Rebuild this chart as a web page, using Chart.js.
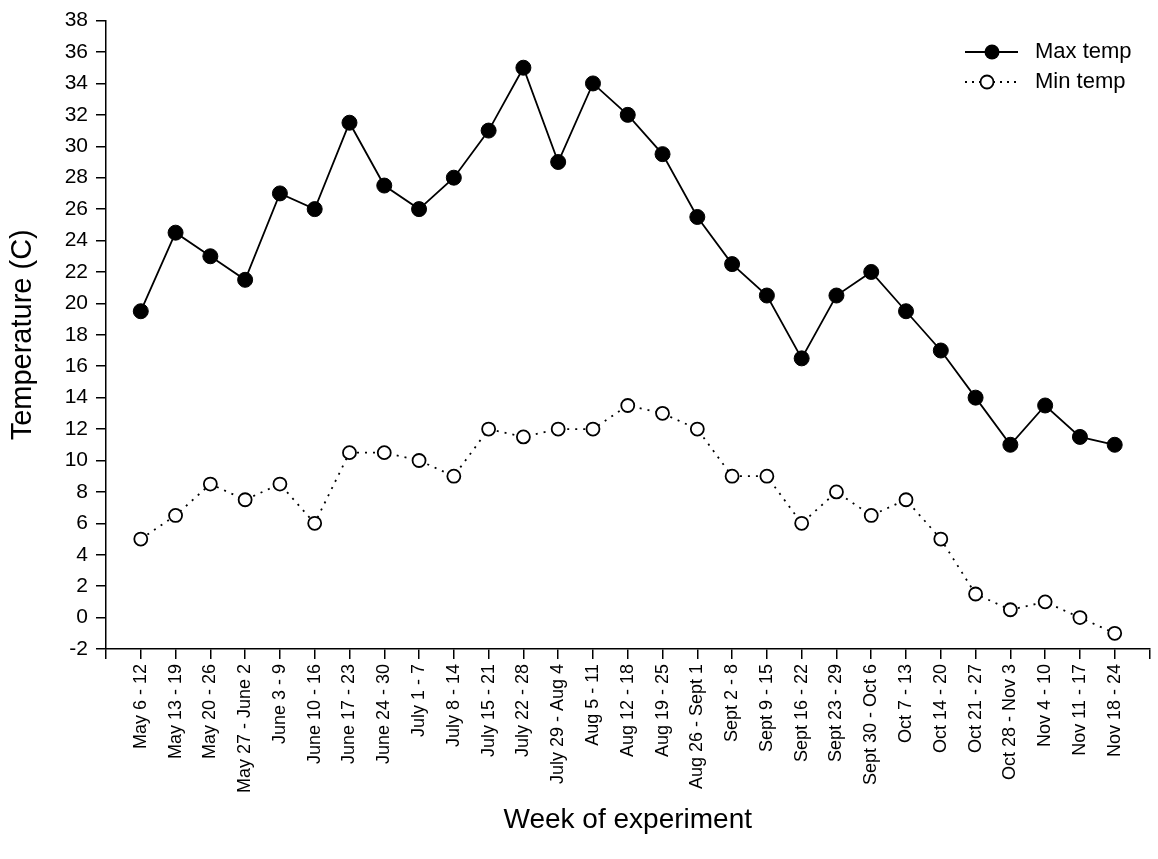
<!DOCTYPE html>
<html>
<head>
<meta charset="utf-8">
<script src="https://cdn.jsdelivr.net/npm/chart.js@4"></script>
<style>
  html, body { margin: 0; padding: 0; background: #fff; }
  #wrap { width: 1158px; height: 859px; }
</style>
</head>
<body>
<div id="wrap"><canvas id="tempChart" width="1158" height="859"></canvas></div>
<script>
var weeks = ['May 6 - 12', 'May 13 - 19', 'May 20 - 26', 'May 27 - June 2', 'June 3 - 9',
    'June 10 - 16', 'June 17 - 23', 'June 24 - 30', 'July 1 - 7', 'July 8 - 14',
    'July 15 - 21', 'July 22 - 28', 'July 29 - Aug 4', 'Aug 5 - 11', 'Aug 12 - 18',
    'Aug 19 - 25', 'Aug 26 - Sept 1', 'Sept 2 - 8', 'Sept 9 - 15', 'Sept 16 - 22',
    'Sept 23 - 29', 'Sept 30 - Oct 6', 'Oct 7 - 13', 'Oct 14 - 20', 'Oct 21 - 27',
    'Oct 28 - Nov 3', 'Nov 4 - 10', 'Nov 11 - 17', 'Nov 18 - 24'];

var maxTemp = [19.5, 24.5, 23, 21.5, 27, 26, 31.5, 27.5, 26, 28,
    31, 35, 29, 34, 32, 29.5, 25.5, 22.5, 20.5, 16.5,
    20.5, 22, 19.5, 17, 14, 11, 13.5, 11.5, 11];

var minTemp = [5, 6.5, 8.5, 7.5, 8.5, 6, 10.5, 10.5, 10, 9,
    12, 11.5, 12, 12, 13.5, 13, 12, 9, 9, 6,
    8, 6.5, 7.5, 5, 1.5, 0.5, 1, 0, -1];

var font = 'Liberation Sans, Arial, sans-serif';

// week i sits at x = i + 1, axis runs 0..30
function toPoints(arr) {
    return arr.map((v, i) => ({x: i + 1, y: v}));
}

// legend drawn by hand: solid line + filled dot, dotted line + open dot
var legendPlugin = {
    id: 'legendPlugin',
    afterDraw(chart) {
        const c = chart.ctx;
        c.save();
        c.strokeStyle = '#000';
        c.lineWidth = 1.8;
        c.beginPath();
        c.moveTo(965, 52); c.lineTo(1018, 52);
        c.stroke();
        c.fillStyle = '#000';
        c.beginPath();
        c.arc(992, 52, 7.5, 0, Math.PI * 2);
        c.fill();

        c.setLineDash([2, 5]);
        c.beginPath();
        c.moveTo(965, 82); c.lineTo(1020, 82);
        c.stroke();
        c.setLineDash([]);
        c.fillStyle = '#fff';
        c.beginPath();
        c.arc(987, 82, 6.5, 0, Math.PI * 2);
        c.fill();
        c.stroke();

        c.fillStyle = '#000';
        c.font = '22px ' + font;
        c.textBaseline = 'middle';
        c.fillText('Max temp', 1035, 52);
        c.fillText('Min temp', 1035, 82);
        c.restore();
    }
};

var ctx = document.getElementById('tempChart').getContext('2d');

var tempChart = new Chart(ctx, {
    type: 'line',
    data: {
        datasets: [{
            label: 'Max temp',
            data: toPoints(maxTemp),
            borderColor: '#000',
            borderWidth: 1.8,
            pointRadius: 7.5,
            pointBackgroundColor: '#000',
            pointBorderColor: '#000',
            pointBorderWidth: 1,
            tension: 0
        }, {
            label: 'Min temp',
            data: toPoints(minTemp),
            borderColor: '#000',
            borderWidth: 1.8,
            borderDash: [2, 6],
            pointRadius: 6.5,
            pointBackgroundColor: '#fff',
            pointBorderColor: '#000',
            pointBorderWidth: 1.8,
            tension: 0
        }]
    },
    options: {
        responsive: false,
        animation: false,
        layout: {
            padding: {top: 18, right: 6, bottom: 0, left: 0}
        },
        plugins: {
            legend: {display: false},
            tooltip: {enabled: false}
        },
        scales: {
            x: {
                type: 'linear',
                min: 0,
                max: 30,
                afterFit: (scale) => {
                    scale.height = 210;
                    scale.paddingLeft = 0;
                    scale.paddingRight = 0;
                },
                border: {display: true, color: '#000', width: 1.5},
                grid: {drawOnChartArea: false, drawTicks: true, tickLength: 10, color: '#000', lineWidth: 1.5},
                ticks: {
                    stepSize: 1,
                    autoSkip: false,
                    minRotation: 90,
                    maxRotation: 90,
                    padding: 5,
                    color: '#000',
                    font: {family: font, size: 18},
                    callback: (value) => weeks[value - 1] || ''
                },
                title: {
                    display: true,
                    text: 'Week of experiment',
                    color: '#000',
                    font: {family: font, size: 28},
                    padding: {top: 0, bottom: 22}
                }
            },
            y: {
                min: -2,
                max: 38,
                afterFit: (scale) => { scale.width = 106; },
                border: {display: true, color: '#000', width: 1.5},
                grid: {drawOnChartArea: false, drawTicks: true, tickLength: 10, color: '#000', lineWidth: 1.5},
                ticks: {
                    stepSize: 2,
                    autoSkip: false,
                    padding: 8,
                    color: '#000',
                    font: {family: font, size: 21}
                },
                title: {
                    display: true,
                    text: 'Temperature (C)',
                    color: '#000',
                    font: {family: font, size: 29},
                    padding: {top: 6, bottom: 0}
                }
            }
        }
    },
    plugins: [legendPlugin]
});
</script>
</body>
</html>
